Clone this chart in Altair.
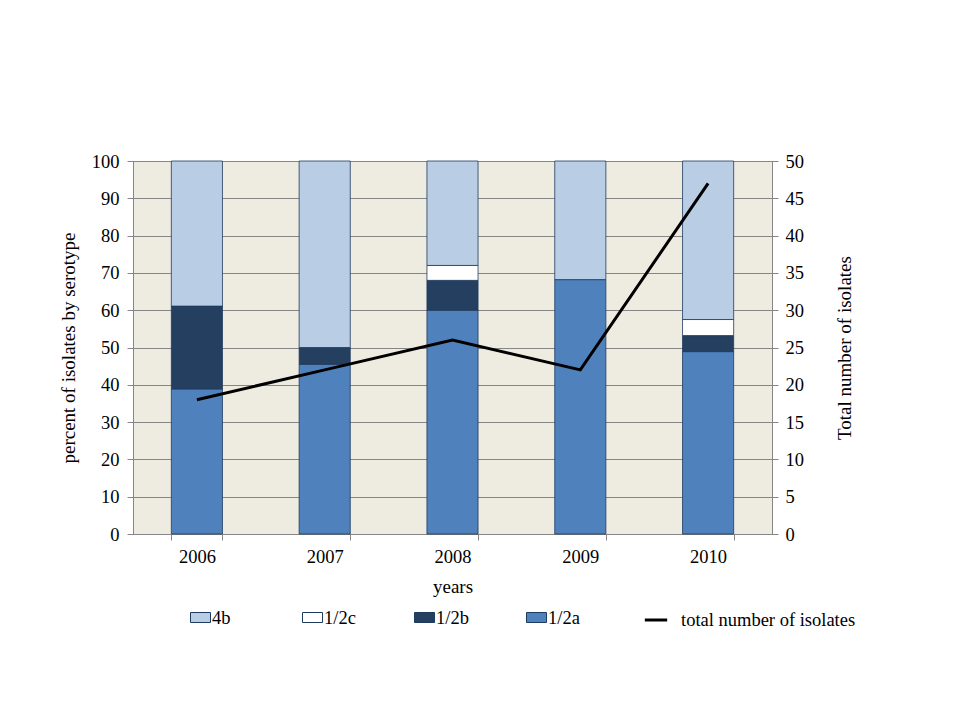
import altair as alt
import pandas as pd

# ---- data ----
years = ["2006", "2007", "2008", "2009", "2010"]
pct_1_2a = [38.9, 45.5, 60.0, 68.2, 48.9]
pct_1_2b = [22.2, 4.5, 8.0, 0.0, 4.3]
pct_1_2c = [0.0, 0.0, 4.0, 0.0, 4.3]
pct_4b = [38.9, 50.0, 28.0, 31.8, 42.5]
total_isolates = [18, 22, 26, 22, 47]

serotypes_legend = ["4b", "1/2c", "1/2b", "1/2a"]
serotype_colors = ["#B9CDE5", "#FFFFFF", "#243F60", "#4F81BD"]

rows = []
for order, (name, vals) in enumerate([("1/2a", pct_1_2a), ("1/2b", pct_1_2b),
                                       ("1/2c", pct_1_2c), ("4b", pct_4b)]):
    for yr, v in zip(years, vals):
        if v > 0:
            rows.append({"year": yr, "serotype": name, "pct": v, "order": order})
bars_df = pd.DataFrame(rows)
line_df = pd.DataFrame({"year": years, "total": total_isolates,
                        "series": ["total number of isolates"] * len(years)})

FONT = "Liberation Serif"
GRAY = "#868686"
W, H = 639, 373
TICK_FS = 18.5
TITLE_FS = 19
LEG_FS = 18.5

x_enc = alt.X(
    "year:N", title="years",
    scale=alt.Scale(paddingInner=0.6, paddingOuter=0.3),
    axis=alt.Axis(labelAngle=0, tickBand="extent", tickSize=6, tickColor=GRAY,
                  domainColor=GRAY, labelFont=FONT, labelFontSize=TICK_FS,
                  labelColor="black", labelPadding=7, titleFont=FONT,
                  titleFontSize=TITLE_FS, titleFontWeight="normal",
                  titleColor="black", titlePadding=12),
)

bars = alt.Chart(bars_df).mark_bar(stroke="#1F3A5F", strokeWidth=0.8).encode(
    x=x_enc,
    y=alt.Y("pct:Q", stack="zero",
            scale=alt.Scale(domain=[0, 100], nice=False),
            axis=alt.Axis(values=list(range(0, 101, 10)), grid=True,
                          gridColor=GRAY, gridWidth=1, tickSize=6, tickColor=GRAY,
                          domainColor=GRAY, labelFont=FONT, labelFontSize=TICK_FS,
                          labelColor="black", labelPadding=8,
                          title="percent  of isolates  by serotype",
                          titleFont=FONT, titleFontSize=TITLE_FS,
                          titleFontWeight="normal", titleColor="black",
                          titlePadding=13)),
    color=alt.Color("serotype:N",
                    scale=alt.Scale(domain=serotypes_legend, range=serotype_colors),
                    legend=alt.Legend(orient="none", legendX=57, legendY=446,
                                      direction="horizontal", title=None,
                                      columns=4, gridAlign="all",
                                      columnPadding=55,
                                      symbolType="M-1,-0.5H1V0.5H-1Z",
                                      symbolSize=400, symbolStrokeColor="#1F3A5F",
                                      symbolStrokeWidth=1, labelOffset=1,
                                      labelFont=FONT, labelFontSize=LEG_FS,
                                      labelColor="black", labelLimit=300)),
    order=alt.Order("order:Q", sort="ascending"),
)

line = alt.Chart(line_df).mark_line(strokeWidth=3).encode(
    x=x_enc,
    y=alt.Y("total:Q",
            scale=alt.Scale(domain=[0, 50], nice=False),
            axis=alt.Axis(orient="right", values=list(range(0, 51, 5)), grid=False,
                          tickSize=6, tickColor=GRAY, domainColor=GRAY,
                          labelFont=FONT, labelFontSize=TICK_FS, labelColor="black",
                          labelPadding=7, title="Total  number of isolates",
                          titleFont=FONT, titleFontSize=TITLE_FS,
                          titleFontWeight="normal", titleColor="black",
                          titleAngle=270, titlePadding=51)),
    stroke=alt.Stroke("series:N", scale=alt.Scale(range=["black"]),
                      legend=alt.Legend(orient="none", legendX=510, legendY=446,
                                        title=None, symbolType="stroke",
                                        symbolSize=500, symbolStrokeWidth=3,
                                        labelOffset=12, labelFont=FONT,
                                        labelFontSize=LEG_FS, labelColor="black",
                                        labelLimit=300)),
)

chart = alt.layer(bars, line).resolve_scale(
    y="independent", stroke="independent", color="independent"
).properties(
    width=W, height=H,
    autosize=alt.AutoSizeParams(type="none"),
    padding={"left": 125, "top": 153, "right": 180, "bottom": 178},
    background="white",
).configure_view(fill="#EEECE1", stroke=GRAY, strokeWidth=1)

chart.save("out.html", embed_options={"renderer": "svg", "actions": False})
